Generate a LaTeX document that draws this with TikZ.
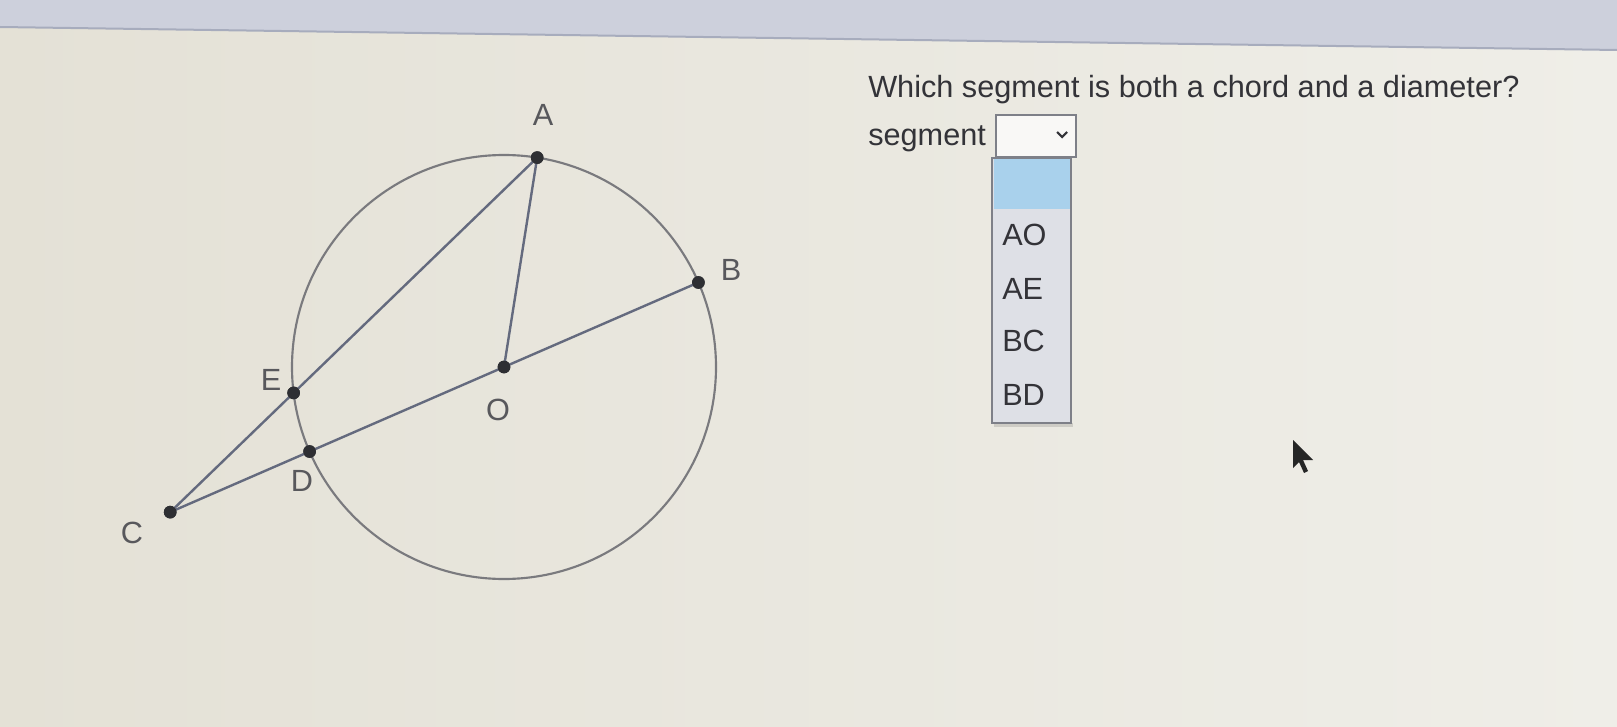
\documentclass[tikz,border=0pt]{standalone}
\usepackage{fontspec}
\setmainfont{Liberation Sans}
\usetikzlibrary{calc}
\definecolor{bgL}{HTML}{E4E1D6}
\definecolor{bgR}{HTML}{EFEEE8}
\definecolor{strip}{HTML}{CDD0DC}
\definecolor{stripedge}{HTML}{A7ACBD}
\definecolor{circ}{HTML}{7A7A7E}
\definecolor{seg}{HTML}{646A7E}
\definecolor{dotc}{HTML}{2E2F33}
\definecolor{lbl}{HTML}{58585C}
\definecolor{txt}{HTML}{333338}
\definecolor{listbg}{HTML}{DEE0E6}
\definecolor{hl}{HTML}{A9D1EC}
\definecolor{boxb}{HTML}{7E8088}
\tikzset{
  ptdot/.style={circle,fill=dotc,inner sep=0pt,minimum size=9.5pt},
  ptlbl/.style={font=\fontsize{23}{26}\selectfont,text=lbl,inner sep=0pt},
  qtext/.style={font=\fontsize{23}{26}\selectfont,text=txt,inner sep=0pt,anchor=base west},
  itemtxt/.style={font=\fontsize{23}{26}\selectfont,text=txt,inner sep=0pt,anchor=west},
  segline/.style={draw=seg,line width=1.8pt},
}
\begin{document}
\begin{tikzpicture}[x=0.75pt,y=0.75pt]
\useasboundingbox (0,0) rectangle (1617,726);
% background
\shade[left color=bgL,right color=bgR] (0,0) rectangle (1617,726);
\fill[strip] (0,726) -- (1617,726) -- (1617,676) -- (0,699) -- cycle;
\draw[stripedge,line width=1.5pt] (0,699) -- (1617,676);
% geometry
\coordinate (Oc) at (504,359);
\draw[circ,line width=1.6pt] (Oc) circle (212);
\node[ptdot] (O) at (Oc) {};
\node[ptdot] (A) at ($(Oc)+(81:212)$) {};
\node[ptdot] (B) at ($(Oc)+(23.5:212)$) {};
\node[ptdot] (D) at ($(Oc)+(203.5:212)$) {};
\node[ptdot] (C) at ($(Oc)+(203.5:364)$) {};
\node[ptdot] (E) at ($(C)!0.3363!(A)$) {};
\draw[segline] (C.center) -- (A.center);
\draw[segline] (A.center) -- (O.center);
\draw[segline] (C.center) -- (B.center);
\foreach \p in {A,B,C,D,E,O} \node[ptdot] at (\p) {};
% labels
\node[ptlbl] (lA) at (543,611) {A};
\node[ptlbl] (lB) at (731,456) {B};
\node[ptlbl] (lE) at (271,346) {E};
\node[ptlbl] (lO) at (498,316) {O};
\node[ptlbl] (lD) at (302,245) {D};
\node[ptlbl] (lC) at (132,193) {C};
% question
\node[qtext] (q) at (868,628) {Which segment is both a chord and a diameter?};
\node[qtext] (sg) at (868,580) {segment};
% dropdown box
\draw[boxb,line width=1pt,fill=white!60!bgR] (996,569) rectangle (1076,611);
\draw[txt,line width=1.6pt] (1057,594) -- (1062,589) -- (1067,594);
% list
\fill[black,opacity=0.12] (994,299) rectangle (1073,303);
\draw[boxb,line width=1pt,fill=listbg] (992,303) rectangle (1071,568);
\fill[hl] (993.5,517) rectangle (1069.5,566.5);
\node[itemtxt] (iAO) at (1002,491) {AO};
\node[itemtxt] (iAE) at (1002,437) {AE};
\node[itemtxt] (iBC) at (1002,385) {BC};
\node[itemtxt] (iBD) at (1002,331) {BD};
% cursor
\fill[black!85] (1293,286) -- (1293,258) -- (1299,264) -- (1304,253) -- (1308,255) -- (1303,266) -- (1313,266) -- cycle;
\end{tikzpicture}
\end{document}
